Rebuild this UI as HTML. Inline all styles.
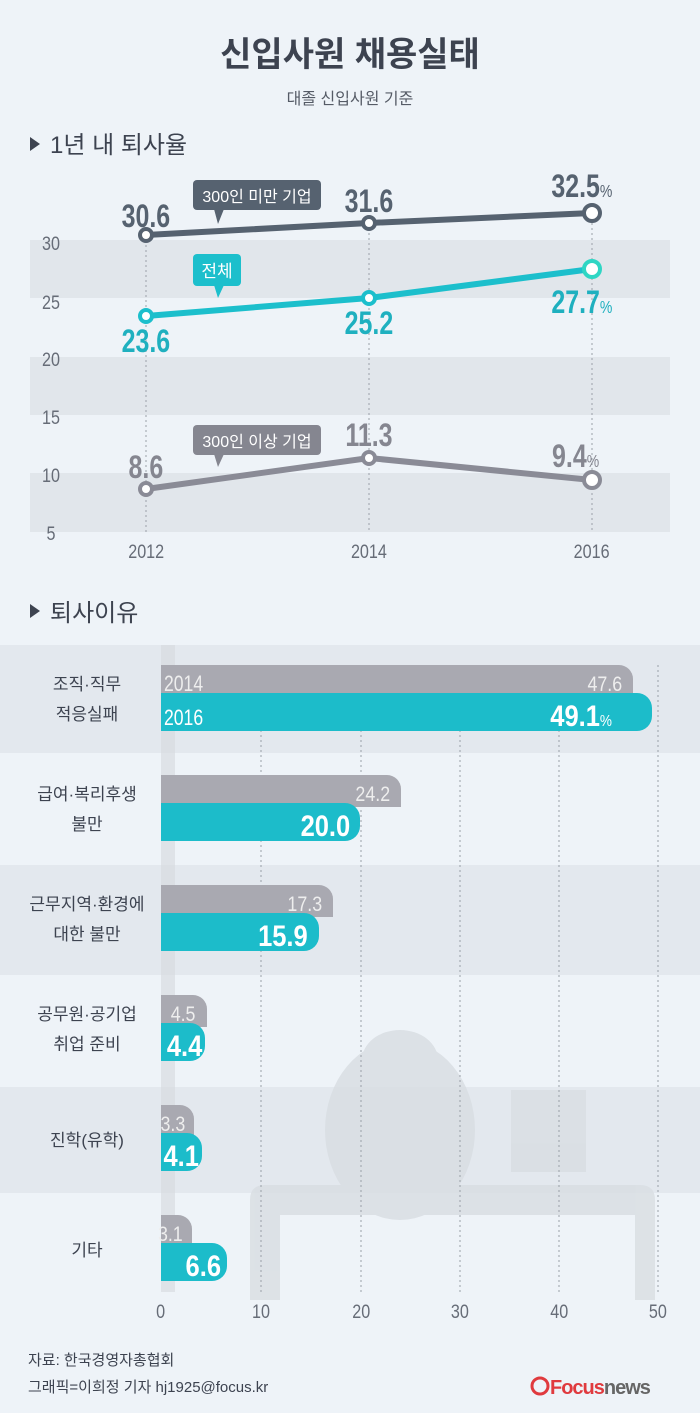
<!DOCTYPE html>
<html><head><meta charset="utf-8"><style>
body{margin:0;width:700px;height:1413px;background:#eef3f8;overflow:hidden}
svg{display:block}
text{font-family:"Liberation Sans","Noto Sans CJK KR",sans-serif}
</style></head><body>
<svg width="700" height="1413" viewBox="0 0 700 1413">
<rect width="700" height="1413" fill="#eef3f8"/>
<text x="350" y="66" text-anchor="middle" font-size="34" font-weight="bold" fill="#3d4350">신입사원 채용실태</text>
<text x="350" y="104" text-anchor="middle" font-size="16" fill="#555b66">대졸 신입사원 기준</text>
<polygon points="30,137 30,151 40,144" fill="#3d4350"/>
<text x="50" y="153" font-size="24" fill="#3d4350">1년 내 퇴사율</text>
<rect x="30" y="240" width="640" height="58" fill="#e1e6eb"/>
<rect x="30" y="357" width="640" height="58" fill="#e1e6eb"/>
<rect x="30" y="473" width="640" height="59" fill="#e1e6eb"/>
<g font-size="19" fill="#666c77" text-anchor="middle" transform="scale(0.85,1)">
<text x="60" y="250">30</text><text x="60" y="309">25</text><text x="60" y="366">20</text><text x="60" y="424">15</text><text x="60" y="482">10</text><text x="60" y="540">5</text>
<text x="172" y="558">2012</text><text x="434" y="558">2014</text><text x="696" y="558">2016</text>
</g>
<g stroke="#9aa0a8" stroke-dasharray="2,3" stroke-width="1">
<line x1="146" y1="235" x2="146" y2="532"/><line x1="369" y1="223" x2="369" y2="532"/><line x1="592" y1="213" x2="592" y2="532"/>
</g>
<polyline points="146,235 369,223 592,213" fill="none" stroke="#566270" stroke-width="6"/>
<polyline points="146,316 369,298 592,269" fill="none" stroke="#1cbfcc" stroke-width="6"/>
<polyline points="146,489 369,458 592,480" fill="none" stroke="#8a8b96" stroke-width="6"/>
<g stroke-width="4" fill="#fff">
<circle cx="146" cy="235" r="6" stroke="#566270"/><circle cx="369" cy="223" r="6" stroke="#566270"/><circle cx="592" cy="213" r="8" stroke="#566270"/>
<circle cx="146" cy="316" r="6" stroke="#1cbfcc"/><circle cx="369" cy="298" r="6" stroke="#1cbfcc"/><circle cx="592" cy="269" r="8" stroke="#2fd6c4"/>
<circle cx="146" cy="489" r="6" stroke="#8a8b96"/><circle cx="369" cy="458" r="6" stroke="#8a8b96"/><circle cx="592" cy="480" r="8" stroke="#8a8b96"/>
</g>
<rect x="193" y="180" width="128" height="30" rx="4" fill="#566270"/><polygon points="214,209 224,209 218,224" fill="#566270"/>
<text x="257" y="202" text-anchor="middle" font-size="16" fill="#fff">300인 미만 기업</text>
<rect x="193" y="254" width="48" height="32" rx="4" fill="#1cbfcc"/><polygon points="214,285 224,285 218,298" fill="#1cbfcc"/>
<text x="217" y="277" text-anchor="middle" font-size="17" fill="#fff">전체</text>
<rect x="193" y="425" width="128" height="30" rx="4" fill="#858690"/><polygon points="214,454 224,454 218,467" fill="#858690"/>
<text x="257" y="447" text-anchor="middle" font-size="16" fill="#fff">300인 이상 기업</text>
<g font-size="32" font-weight="bold" text-anchor="middle" transform="scale(0.78,1)">
<text x="187" y="227" fill="#566270">30.6</text><text x="473" y="212" fill="#566270">31.6</text><text x="746" y="197" fill="#566270">32.5<tspan font-size="18" font-weight="normal">%</tspan></text>
<text x="187" y="352" fill="#1fb0bf">23.6</text><text x="473" y="334" fill="#1fb0bf">25.2</text><text x="746" y="313" fill="#1fb0bf">27.7<tspan font-size="18" font-weight="normal">%</tspan></text>
<text x="187" y="478" fill="#858690">8.6</text><text x="473" y="446" fill="#858690">11.3</text><text x="738" y="467" fill="#858690">9.4<tspan font-size="18" font-weight="normal">%</tspan></text>
</g>
<polygon points="30,604 30,618 40,611" fill="#3d4350"/>
<text x="50" y="621" font-size="24" fill="#3d4350">퇴사이유</text>
<rect x="0" y="645" width="700" height="108" fill="#e3e8ee"/>
<rect x="0" y="865" width="700" height="110" fill="#e3e8ee"/>
<rect x="0" y="1087" width="700" height="106" fill="#e3e8ee"/>
<g fill="#d9dee3" opacity="0.85">
<path d="M250,1300 V1200 q0,-15 15,-15 H640 q15,0 15,15 V1300 H635 V1215 H280 V1300 Z"/>
<ellipse cx="400" cy="1130" rx="75" ry="90"/>
<ellipse cx="400" cy="1060" rx="38" ry="30"/>
<rect x="511" y="1090" width="75" height="82"/>
</g>
<g stroke="#9aa0a8" stroke-dasharray="2,3" stroke-width="1">
<line x1="261" y1="665" x2="261" y2="1292"/><line x1="361" y1="665" x2="361" y2="1292"/><line x1="460" y1="665" x2="460" y2="1292"/><line x1="559" y1="665" x2="559" y2="1292"/><line x1="658" y1="665" x2="658" y2="1292"/>
</g>
<rect x="161" y="645" width="14" height="647" fill="#d5d9de" opacity="0.6"/>
<g font-size="17" fill="#3d4350" text-anchor="middle">
<text x="87" y="690">조직·직무</text><text x="87" y="720">적응실패</text>
<text x="87" y="800">급여·복리후생</text><text x="87" y="830">불만</text>
<text x="87" y="910">근무지역·환경에</text><text x="87" y="940">대한 불만</text>
<text x="87" y="1020">공무원·공기업</text><text x="87" y="1050">취업 준비</text>
<text x="87" y="1146">진학(유학)</text>
<text x="87" y="1256">기타</text>
</g>
<g fill="#a9a9b1">
<path d="M161,665 H619 a14,14 0 0 1 14,14 V697 H161Z"/>
<path d="M161,775 H387 a14,14 0 0 1 14,14 V807 H161Z"/>
<path d="M161,885 H319 a14,14 0 0 1 14,14 V917 H161Z"/>
<path d="M161,995 H193 a14,14 0 0 1 14,14 V1027 H161Z"/>
<path d="M161,1105 H180 a14,14 0 0 1 14,14 V1137 H161Z"/>
<path d="M161,1215 H178 a14,14 0 0 1 14,14 V1247 H161Z"/>
</g>
<g fill="#1cbcca">
<rect x="161" y="693" width="491" height="38" rx="15"/><rect x="161" y="693" width="30" height="38"/>
<rect x="161" y="803" width="199" height="38" rx="15"/><rect x="161" y="803" width="30" height="38"/>
<rect x="161" y="913" width="158" height="38" rx="15"/><rect x="161" y="913" width="30" height="38"/>
<rect x="161" y="1023" width="44" height="38" rx="15"/><rect x="161" y="1023" width="20" height="38"/>
<rect x="161" y="1133" width="41" height="38" rx="15"/><rect x="161" y="1133" width="20" height="38"/>
<rect x="161" y="1243" width="66" height="38" rx="15"/><rect x="161" y="1243" width="20" height="38"/>
</g>
<g font-size="22" fill="#eeeeee" transform="scale(0.8,1)">
<text x="205" y="691">2014</text><text x="205" y="725" fill="#fff">2016</text>
</g>
<g font-size="21" fill="#eeeeee" text-anchor="end" transform="scale(0.85,1)">
<text x="732" y="691">47.6</text><text x="459" y="801">24.2</text><text x="379" y="911">17.3</text><text x="230" y="1021">4.5</text><text x="218" y="1131">3.3</text><text x="215" y="1241">3.1</text>
</g>
<g font-size="30" font-weight="bold" fill="#fff" text-anchor="end" transform="scale(0.85,1)">
<text x="720" y="726">49.1<tspan font-size="16" font-weight="normal">%</tspan></text>
<text x="412" y="836">20.0</text><text x="362" y="946">15.9</text><text x="238" y="1056">4.4</text><text x="234" y="1166">4.1</text><text x="260" y="1276">6.6</text>
</g>
<g font-size="19" fill="#666c77" text-anchor="middle" transform="scale(0.85,1)">
<text x="189" y="1318">0</text><text x="307" y="1318">10</text><text x="425" y="1318">20</text><text x="541" y="1318">30</text><text x="658" y="1318">40</text><text x="774" y="1318">50</text>
</g>
<text x="28" y="1365" font-size="15" fill="#3d4350">자료: 한국경영자총협회</text>
<text x="28" y="1392" font-size="15" fill="#3d4350">그래픽=이희정 기자 hj1925@focus.kr</text>
<circle cx="540" cy="1386" r="8" fill="none" stroke="#e03a3e" stroke-width="3"/>
<text x="550" y="1394" font-size="20" font-weight="bold" fill="#e03a3e" letter-spacing="-1">Focus<tspan fill="#666">news</tspan></text>
</svg>
</body></html>
